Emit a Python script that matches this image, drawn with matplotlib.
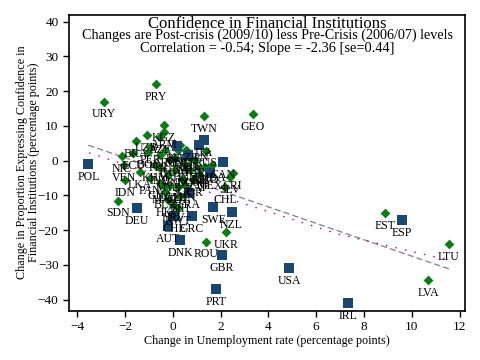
import matplotlib
matplotlib.use("Agg")
import matplotlib.pyplot as plt
import numpy as np

plt.rcParams['font.family'] = ['Liberation Serif', 'DejaVu Serif']

# OECD countries (squares)
oecd_codes = ["POL", "DEU", "ESP", "USA", "IRL", "PRT", "GBR", "NZL", "SWE", "DNK",
              "AUT", "CHE", "GRC", "FRA", "MEX", "CAN", "ITA", "JPN", "KOR", "BEL"]
oecd_unemp = [-3.53, -1.51, 9.59, 4.88, 7.35, 1.81, 2.05, 2.46, 1.70, 0.31,
              -0.20, 0.05, 0.79, 0.69, 1.56, 2.09, 1.31, 1.11, 0.65, 0.17]
oecd_conf = [-0.9, -13.7, -17.2, -31.0, -41.0, -37.0, -27.1, -14.9, -13.4, -22.8,
             -18.8, -15.9, -15.9, -9.2, -3.5, -0.5, 6.0, 4.5, 1.6, 4.2]

# Other countries (diamonds)
other_codes = ["URY", "PRY", "TWN", "GEO", "EST", "LTU", "LVA", "ROU", "UKR", "IDN",
               "SDN", "CRI", "SLV", "CHL", "RUS", "BRA", "ECU", "KGZ", "ARM", "AZE",
               "UZB", "NIC", "VEN", "LKA", "PAN", "MAR", "COL", "SGP", "BLR", "HKG",
               "KWT", "PER", "BOL", "PHL", "ARG", "THA", "GTM", "KAZ", "HND", "DOM",
               "TUR", "ISR", "ZAF", "VNM", "MYS", "IND", "KHM", "MNG", "BGR", "SRB",
               "MKD", "JOR", "EGY", "LBN", "MDA", "BIH", "HRV", "GHA"]
other_unemp = [-2.87, -0.70, 1.31, 3.35, 8.88, 11.55, 10.68, 1.39, 2.23, -2.00,
               -2.28, 2.51, 2.40, 2.19, 1.38, -1.54, -1.66, -0.36, -0.36, -0.53,
               -1.08, -2.12, -2.04, -1.37, -0.95, -0.32, 0.22, 0.39, -0.32, -0.20,
               0.22, -0.95, -1.03, -0.53, -0.32, -0.11, 0.10, 0.31, 0.51, 0.72,
               0.93, 1.14, 1.06, 0.10, -0.20, -0.53, -0.74, 0.22, 0.56, 0.72,
               1.35, 0.85, -0.11, 0.51, 1.64, 0.31, 0.05, -0.53]
other_conf = [17.0, 21.9, 12.9, 13.4, -15.1, -23.9, -34.3, -23.3, -20.7, -5.5,
              -11.5, -3.6, -4.6, -7.5, 2.9, 5.7, 2.2, 10.1, 8.3, 6.8,
              7.4, 1.3, -1.2, -3.3, -5.0, -7.6, -7.6, -5.3, -9.0, -11.3,
              -13.6, 3.9, 2.5, 1.6, 3.1, 0.2, 0.8, 4.5, -1.2, -2.7,
              0.2, -2.1, -4.1, -2.7, -4.1, -2.1, -1.2, 3.1, 3.1, 0.8,
              -1.8, -5.6, -7.0, -7.0, -1.2, -10.2, -12.7, -6.4]

# fitted lines
ols_slope = -2.36
ols_intercept = -3.9
smooth_x = [-3.5, 0.0, 3.1, 6.9, 11.5]
smooth_y = [2.2, -5.6, -12.7, -21.1, -28.6]

navy = "#1a476f"
green = "#0b7d14"

fig = plt.figure(figsize=(4.8, 3.6), dpi=100)
ax = fig.add_axes([0.1438, 0.1361, 0.825, 0.8222])

all_x = np.array(oecd_unemp + other_unemp)
fx = np.array([all_x.min(), all_x.max()])
ax.plot(fx, ols_intercept + ols_slope * fx, color="#808080", lw=0.9,
        ls=(0, (5, 2.5)), zorder=1)
ax.plot(smooth_x, smooth_y, color="#c10534", lw=1.0, ls=(0, (1, 6)), zorder=1)

ax.scatter(other_unemp, other_conf, marker="D", s=25, color=green, lw=0, zorder=3)
ax.scatter(oecd_unemp, oecd_conf, marker="s", s=52, color=navy, lw=0, zorder=3)

for codes, xs, ys in [(oecd_codes, oecd_unemp, oecd_conf),
                      (other_codes, other_unemp, other_conf)]:
    for c, xv, yv in zip(codes, xs, ys):
        ax.annotate(c, (xv, yv), xytext=(0, -5), textcoords="offset points",
                    ha="center", va="top", fontsize=8.5, color="black", zorder=4)

ax.set_xlim(-4.34, 12.23)
ax.set_ylim(-43.3, 41.9)
ax.set_xticks(range(-4, 13, 2))
ax.set_yticks(range(-40, 41, 10))
ax.tick_params(labelsize=9.5, length=4, width=1, direction="out")
for s in ax.spines.values():
    s.set_linewidth(1.2)

ax.set_xlabel("Change in Unemployment rate (percentage points)", fontsize=8.7, labelpad=1)
fig.text(0.058, 0.55, "Change in Proportion Expressing Confidence in\nFinancial Institutions (percentage points)",
         rotation=90, ha="center", va="center", fontsize=8.7, linespacing=1.0,
         multialignment="center")

ax.text(0.5, 0.968, "Confidence in Financial Institutions", transform=ax.transAxes,
        ha="center", va="center", fontsize=12)
ax.text(0.5, 0.930, "Changes are Post-crisis (2009/10) less Pre-Crisis (2006/07) levels",
        transform=ax.transAxes, ha="center", va="center", fontsize=10.2)
ax.text(0.5, 0.886, "Correlation = -0.54; Slope = -2.36 [se=0.44]",
        transform=ax.transAxes, ha="center", va="center", fontsize=10.4)

fig.savefig("out.png", dpi=100)
